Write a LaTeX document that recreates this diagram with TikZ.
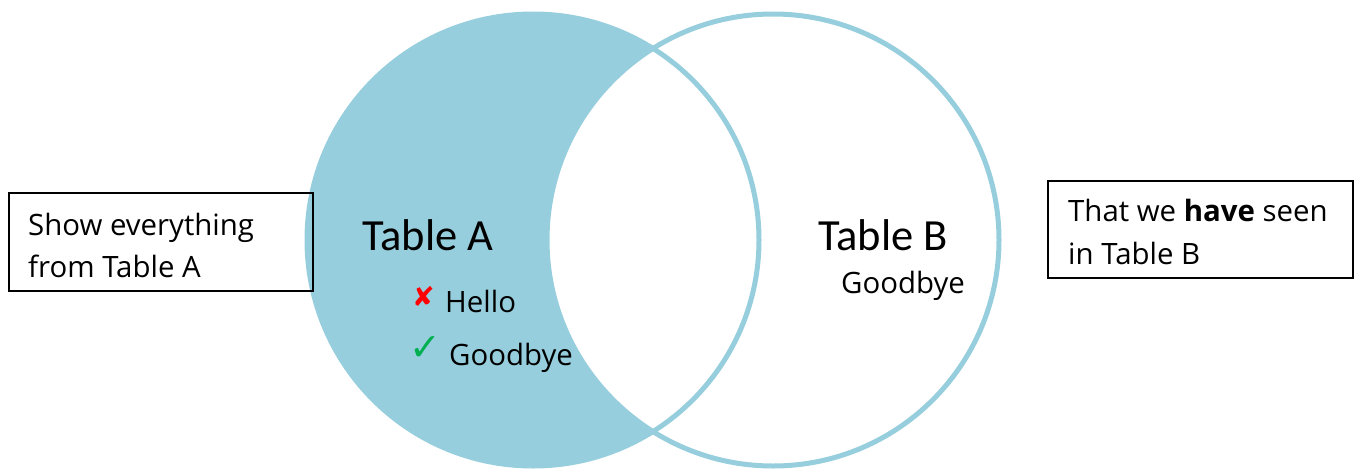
\documentclass[tikz,border=0pt]{standalone}
\usepackage{fontspec}
\setmainfont{Open Sans}
\newfontfamily\headfont{Carlito}
\newfontfamily\symfont{DejaVu Sans}
\definecolor{vennblue}{RGB}{150,206,221}
\definecolor{crossred}{RGB}{255,0,0}
\definecolor{tickgreen}{RGB}{0,176,80}
\begin{document}
\begin{tikzpicture}[x=1pt,y=-1pt,
  body/.style={anchor=base west,inner sep=0pt,font=\fontsize{29.4}{34}\selectfont},
  head/.style={anchor=base west,inner sep=0pt,font=\headfont\fontsize{44.5}{50}\selectfont},
  labelbox/.style={draw=black,line width=1.6pt,inner sep=0pt,anchor=north west},
  ring/.style={draw=vennblue,line width=5pt}]
\useasboundingbox (0,0) rectangle (1357,469);
\coordinate (ca) at (533,240);
\coordinate (cb) at (773,240);
% filled set A
\fill[vennblue] (ca) circle[radius=226];
\begin{scope}
  \clip (ca) circle[radius=226];
  \fill[white] (cb) circle[radius=226];
\end{scope}
\draw[ring] (ca) circle[radius=226];
\draw[ring] (cb) circle[radius=226];
% boxes
\node[labelbox,minimum width=304pt,minimum height=98pt] (boxA) at (8,192) {};
\node[labelbox,minimum width=305pt,minimum height=97pt] (boxB) at (1047,180) {};
\node[body] (a1) at (28,235) {Show everything};
\node[body] (a2) at (28,277) {from Table A};
\node[body] (b1) at (1068,221) {That we \textbf{have} seen};
\node[body] (b2) at (1068,264) {in Table B};
% labels
\node[head] (tA) at (362,250) {Table A};
\node[head] (tB) at (818,250) {Table B};
\node[anchor=base west,inner sep=0pt,font=\symfont\bfseries\fontsize{27}{30}\selectfont,text=crossred] (x) at (412,306) {✘};
\node[body] (hello) at (445,312) {Hello};
\node[anchor=base west,inner sep=0pt,font=\symfont\fontsize{38}{40}\selectfont,text=tickgreen] (ok) at (409,360) {✓};
\node[body] (gA) at (449,365) {Goodbye};
\node[body] (gB) at (841,293) {Goodbye};
\end{tikzpicture}
\end{document}
